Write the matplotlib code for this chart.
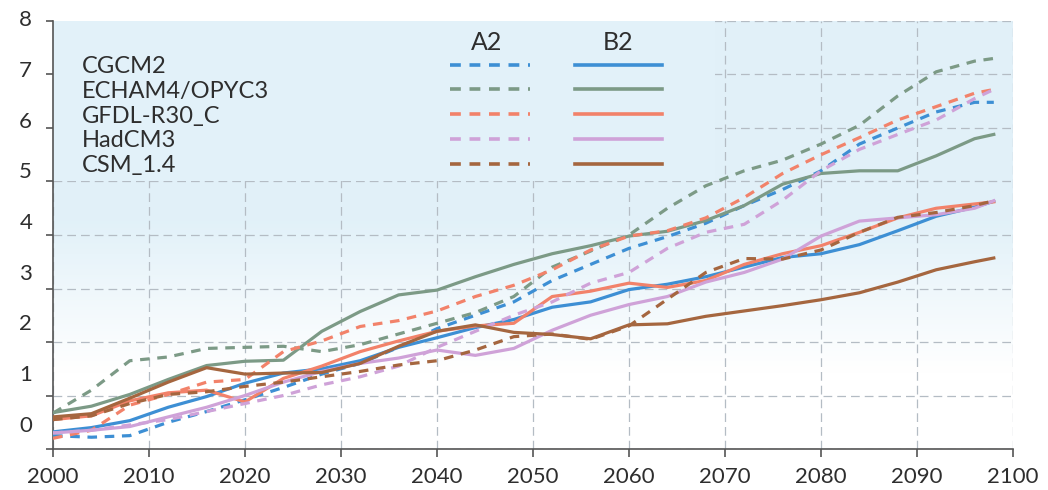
import numpy as np
import matplotlib
matplotlib.use("Agg")
import matplotlib.pyplot as plt
import matplotlib.transforms as mtransforms
from matplotlib.lines import Line2D
from matplotlib.patches import Rectangle

plt.rcParams['font.family'] = ['Lato', 'DejaVu Sans']

# ---- data (temperature change) ----
years = [2000, 2004, 2008, 2012, 2016, 2020, 2024, 2028, 2032, 2036, 2040, 2044, 2048,
         2052, 2056, 2060, 2064, 2068, 2072, 2076, 2080, 2084, 2088, 2092, 2096, 2098]

models = ["CGCM2", "ECHAM4/OPYC3", "GFDL-R30_C", "HadCM3", "CSM_1.4"]
scenarios = ["A2", "B2"]

cgcm2_a2 = [0.25, 0.22, 0.25, 0.50, 0.70, 0.92, 1.15, 1.40, 1.60, 1.90, 2.25, 2.50, 2.75,
            3.15, 3.45, 3.75, 3.97, 4.22, 4.55, 4.85, 5.20, 5.70, 6.00, 6.30, 6.48, 6.48]
cgcm2_b2 = [0.32, 0.40, 0.53, 0.78, 0.98, 1.23, 1.42, 1.50, 1.65, 1.90, 2.08, 2.27, 2.42,
            2.65, 2.75, 2.98, 3.08, 3.22, 3.40, 3.58, 3.65, 3.82, 4.08, 4.35, 4.52, 4.63]
echam4_a2 = [0.67, 1.10, 1.65, 1.72, 1.88, 1.90, 1.92, 1.82, 1.95, 2.15, 2.35, 2.55, 2.85,
             3.40, 3.70, 4.00, 4.50, 4.92, 5.20, 5.40, 5.70, 6.05, 6.60, 7.05, 7.25, 7.30]
echam4_b2 = [0.68, 0.80, 1.02, 1.30, 1.56, 1.64, 1.66, 2.20, 2.57, 2.88, 2.97, 3.22, 3.45,
             3.65, 3.80, 3.98, 4.07, 4.27, 4.55, 4.95, 5.15, 5.20, 5.20, 5.48, 5.80, 5.88]
gfdl_a2 = [0.20, 0.35, 0.82, 1.02, 1.25, 1.30, 1.82, 2.02, 2.29, 2.40, 2.58, 2.85, 3.06,
           3.35, 3.72, 3.98, 4.08, 4.32, 4.70, 5.15, 5.50, 5.82, 6.15, 6.40, 6.65, 6.72]
gfdl_b2 = [0.55, 0.62, 0.90, 1.05, 1.10, 0.88, 1.32, 1.55, 1.82, 2.02, 2.20, 2.30, 2.35,
           2.85, 2.95, 3.10, 3.02, 3.15, 3.45, 3.65, 3.80, 4.05, 4.32, 4.50, 4.58, 4.62]
hadcm3_a2 = [0.30, 0.35, 0.45, 0.55, 0.70, 0.85, 1.00, 1.20, 1.35, 1.55, 1.90, 2.20, 2.50,
             2.75, 3.10, 3.30, 3.75, 4.05, 4.20, 4.65, 5.20, 5.60, 5.88, 6.15, 6.55, 6.72]
hadcm3_b2 = [0.30, 0.35, 0.42, 0.60, 0.78, 1.00, 1.25, 1.45, 1.60, 1.70, 1.85, 1.75, 1.88,
             2.22, 2.50, 2.70, 2.85, 3.12, 3.30, 3.55, 3.98, 4.26, 4.32, 4.38, 4.50, 4.64]
csm_a2 = [0.55, 0.62, 0.85, 1.02, 1.07, 1.17, 1.25, 1.35, 1.45, 1.57, 1.65, 1.85, 2.10,
          2.15, 2.05, 2.30, 2.80, 3.30, 3.56, 3.55, 3.72, 4.05, 4.33, 4.42, 4.55, 4.64]
csm_b2 = [0.60, 0.66, 0.95, 1.25, 1.52, 1.40, 1.42, 1.43, 1.60, 1.92, 2.20, 2.32, 2.18,
          2.14, 2.06, 2.32, 2.34, 2.48, 2.58, 2.68, 2.79, 2.92, 3.12, 3.35, 3.50, 3.57]

a2_series = [cgcm2_a2, echam4_a2, gfdl_a2, hadcm3_a2, csm_a2]
b2_series = [cgcm2_b2, echam4_b2, gfdl_b2, hadcm3_b2, csm_b2]

xticks = [2000, 2010, 2020, 2030, 2040, 2050, 2060, 2070, 2080, 2090, 2100]
yticks = [0, 1, 2, 3, 4, 5, 6, 7, 8]

colors = ["#3d8fd4", "#7c9a86", "#f2826a", "#cfa2d8", "#a5663f"]
text_col = "#2e2e2e"
sky = (0.885, 0.945, 0.975)

fig = plt.figure(figsize=(10.48, 4.90), dpi=100)
ax = fig.add_axes([53 / 1048, 41 / 490, 960 / 1048, 428 / 490])

# background: light blue at the top fading to white near the bottom
grad = np.linspace(0, 1, 200)
fade = np.clip((grad - 0.18) / 0.35, 0, 1)[:, None]
bg = np.ones((200, 1, 3)) * (1 - fade[..., None]) + np.array(sky) * fade[..., None]
ax.imshow(bg, extent=[2000, 2100, 0, 8], origin="lower", aspect="auto", zorder=0)

ax.set_axisbelow(True)
ax.grid(True, color="#b4bcc4", linestyle=(0, (7, 4)), linewidth=0.9)

# legend panel hides the grid in the top left
ax.add_patch(Rectangle((0, 0.625), 0.69, 0.375, transform=ax.transAxes,
                       facecolor=sky, edgecolor="none", zorder=1))

for i in range(len(models)):
    ax.plot(years, a2_series[i], color=colors[i], lw=2.3, dashes=(3, 2.4), zorder=3)
    ax.plot(years, b2_series[i], color=colors[i], lw=2.3, zorder=3)

# legend
ax.text(0.452, 0.949, scenarios[0], transform=ax.transAxes, ha="center", va="center",
        fontsize=18, color=text_col, zorder=4)
ax.text(0.589, 0.949, scenarios[1], transform=ax.transAxes, ha="center", va="center",
        fontsize=18, color=text_col, zorder=4)
row_y = [0.893, 0.836, 0.778, 0.720, 0.662]
for i, name in enumerate(models):
    ax.text(0.030, row_y[i], name, transform=ax.transAxes, ha="left", va="center",
            fontsize=17, color=text_col, zorder=4)
    ax.add_line(Line2D([0.4135, 0.497], [row_y[i] + 0.004] * 2, transform=ax.transAxes,
                       color=colors[i], lw=2.6, dashes=(3, 2.4), zorder=4))
    ax.add_line(Line2D([0.544, 0.634], [row_y[i] + 0.004] * 2, transform=ax.transAxes,
                       color=colors[i], lw=2.6, zorder=4))

ax.set_xlim(2000, 2100)
ax.set_ylim(0, 8)
ax.set_xticks(xticks)
ax.set_yticks(yticks)
ax.set_xticklabels([str(t) for t in xticks], fontsize=16, color=text_col)
ax.set_yticklabels([str(t) for t in yticks], fontsize=16, color=text_col)
ax.tick_params(axis="x", length=6, width=1.2, color="#555555", pad=7)
ax.tick_params(axis="y", length=5, width=1.2, color="#555555", pad=10)

# the scanned y labels drift upward toward the bottom
for lab, v in zip(ax.get_yticklabels(), yticks):
    off = mtransforms.ScaledTranslation(0, (3 + 2.75 * (8 - v)) / 100, fig.dpi_scale_trans)
    lab.set_transform(lab.get_transform() + off)

for s in ["top", "right"]:
    ax.spines[s].set_visible(False)
for s in ["left", "bottom"]:
    ax.spines[s].set_color("#555555")
    ax.spines[s].set_linewidth(1.2)

fig.savefig("out.png", dpi=100)
